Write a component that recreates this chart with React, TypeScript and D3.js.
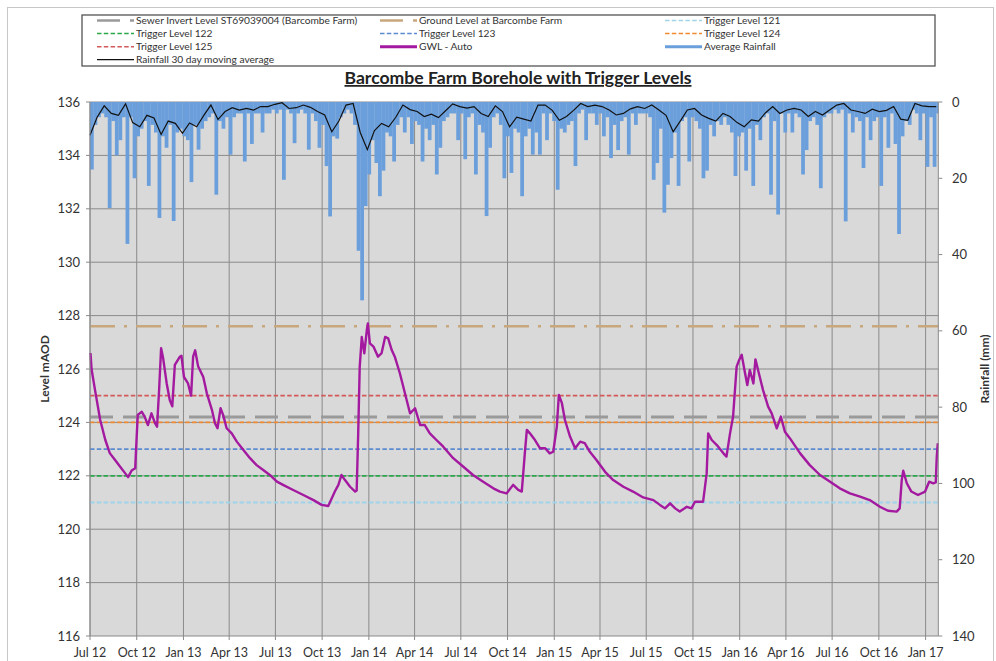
import React from "react";
import * as d3 from "d3";

// ---------- DATA ----------
const START = "2012-07-01";
const END = "2017-01-26";

// Weekly rainfall totals (mm), week i starts START + 7*i days
const rainWeekly = [
  17.7, 6, 4, 3, 4, 27.8, 5, 14, 10, 4, 37.2, 4, 20, 9, 7, 5, 22, 6, 8, 30.4,
  9, 12, 6, 31.2, 8, 7, 9, 10, 21, 6, 12.5, 7, 5, 4, 3, 24.3, 5, 7, 4, 13.8,
  4, 3, 3, 15.6, 3, 11, 3, 3, 8, 3, 3, 2, 3, 2, 20.4, 2, 3, 10.8, 3, 2,
  3, 12.5, 3, 5, 12, 6, 16.8, 30, 9, 9.6, 4, 3, 2, 3, 6, 39, 52, 27.3, 19, 10,
  16, 24.7, 18, 8, 9, 15.6, 6, 4, 8, 4, 11, 5, 6, 15.6, 7, 10, 6, 19, 12, 5,
  4, 3, 3, 10, 3, 15, 4, 3, 19, 6, 8, 29.9, 12, 4, 3, 6, 20, 9, 18.6, 7,
  8, 24.7, 9, 7, 13.8, 8, 13.8, 3, 10, 3, 5, 23, 7, 8, 6, 5, 16.8, 3, 2, 10,
  3, 3, 6, 3, 9, 4, 14.7, 6, 12.6, 5, 4, 13.8, 3, 6, 3, 3, 3, 4, 20.4, 16,
  7, 29, 21.7, 14.7, 8, 22, 5, 4, 15.6, 4, 5, 7, 20, 18, 6, 9, 5, 6, 4, 6,
  8, 19.4, 9, 8, 18, 7, 22, 6, 10, 4, 3, 24.3, 5, 29.5, 3, 8, 3, 8, 3, 4,
  19, 12.6, 5, 4, 6, 22.6, 4, 3, 3, 2, 3, 2, 31.3, 3, 8, 4, 5, 17.3, 4, 10,
  5, 4, 22, 4, 12, 3, 11, 34.6, 9, 5, 6, 2, 3, 10, 3, 17, 4, 17, 3,
];

// Rainfall 30 day moving average (mm), sampled every 14 days from START
const rainMA = [
  8.7, 4, 1.0, 3.0, 3.5, 0.5, 5.4, 6.5, 3.5, 4.2, 8.5, 5, 5.6, 8.2, 5.5, 6.5, 3.5, 0.8, 4.6, 2.5,
  1.5, 2.1, 1.7, 2.1, 1.2, 1.2, 0.6, 0.2, 1.7, 1.5, 0.8, 1.4, 2.5, 3.4, 7.8, 5, 0.8, 0.4, 8, 12.5,
  7.5, 5.6, 6.5, 4, 0.8, 2, 2.5, 3.8, 3.2, 4.1, 2.3, 0.5, 1.2, 1.6, 1.2, 3.0, 3.8, 1.0, 2.5, 6.5,
  4, 4.5, 5.0, 0.8, 0.8, 2.2, 4.8, 3.8, 2.2, 0.4, 1.2, 0.8, 1.2, 2.1, 3.4, 3.0, 1.8, 1.2, 1.7, 0.8,
  2.1, 3.5, 7.8, 5, 2.1, 1.7, 3.4, 4.3, 5, 3, 3.8, 5.4, 6.5, 4.7, 5, 2.8, 1.2, 3.0, 2.1, 1.7,
  2.1, 3.8, 2.5, 3.4, 2.1, 0.8, 0.4, 2.1, 2.5, 3.0, 1.9, 2.5, 2.2, 1.2, 4.5, 4.8, 0.4, 1.0, 1.2, 1.2,
];

// GWL - Auto: days after START and level (mAOD)
const gwlDays = [
  1, 3, 10, 20, 30, 39, 49, 59, 69, 75, 82, 89, 91, 94, 102, 108, 114, 121, 128, 132,
  136, 140, 144, 151, 157, 162, 167, 177, 180, 185, 193, 199, 203, 207, 213, 223, 230, 240, 246, 251,
  257, 262, 269, 279, 289, 302, 315, 328, 341, 354, 368, 380, 400, 420, 440, 456, 469, 476, 482, 489,
  495, 502, 512, 522, 525, 528, 531, 535, 540, 545, 547, 551, 558, 567, 574, 581, 587, 594, 600, 610,
  620, 630, 640, 650, 659, 669, 682, 695, 715, 735, 754, 774, 794, 807, 820, 833, 843, 850, 856, 860,
  866, 876, 886, 896, 905, 912, 919, 923, 929, 935, 945, 955, 965, 974, 984, 997, 1014, 1030, 1050, 1069,
  1089, 1109, 1122, 1132, 1142, 1152, 1161, 1175, 1184, 1191, 1207, 1214, 1217, 1224, 1234, 1247, 1253, 1260, 1266, 1273,
  1278, 1283, 1289, 1294, 1299, 1306, 1310, 1316, 1325, 1335, 1342, 1352, 1360, 1368, 1378, 1398, 1417, 1437, 1457, 1476,
  1496, 1516, 1535, 1555, 1571, 1588, 1594, 1598, 1601, 1608, 1617, 1630, 1644, 1652, 1660, 1665, 1667, 1669,
];
const gwlLevel = [
  126.6, 126.0, 125.2, 124.1, 123.35, 122.85, 122.6, 122.35, 122.1, 121.95, 122.2, 122.28, 123.1, 124.28, 124.4, 124.2, 123.9, 124.34, 123.97, 123.84,
  125.2, 126.78, 126.4, 125.46, 124.84, 124.6, 126.15, 126.46, 126.5, 125.7, 125.46, 125.0, 126.46, 126.7, 126.09, 125.7, 125.09, 124.47, 123.97, 123.78,
  124.53, 124.28, 123.78, 123.59, 123.28, 122.97, 122.66, 122.4, 122.22, 122.03, 121.78, 121.66, 121.47, 121.28, 121.09, 120.91, 120.87, 121.16, 121.41, 121.66,
  122.03, 121.84, 121.59, 121.41, 121.45, 123.59, 126.09, 127.2, 126.59, 127.46, 127.71, 126.96, 126.84, 126.46, 126.59, 127.2, 127.15, 126.71, 126.46, 125.84,
  125.09, 124.34, 124.53, 123.9, 123.9, 123.59, 123.34, 123.1, 122.66, 122.34, 122.03, 121.78, 121.53, 121.41, 121.34, 121.66, 121.47, 121.41, 122.84, 123.72,
  123.59, 123.34, 123.03, 123.03, 122.84, 122.9, 123.84, 125.03, 124.72, 124.09, 123.47, 123.03, 123.28, 123.22, 122.9, 122.59, 122.15, 121.84, 121.59, 121.41,
  121.19, 121.09, 120.91, 120.78, 120.97, 120.78, 120.66, 120.84, 120.78, 121.03, 121.03, 122.09, 123.59, 123.34, 123.15, 122.84, 122.72, 123.59, 124.22, 126.09,
  126.34, 126.53, 125.9, 125.4, 125.96, 125.46, 126.36, 125.9, 125.21, 124.59, 124.34, 123.78, 124.22, 123.65, 123.4, 122.84, 122.4, 122.03, 121.78, 121.53,
  121.34, 121.22, 121.09, 120.84, 120.69, 120.66, 120.78, 121.84, 122.19, 121.72, 121.41, 121.28, 121.41, 121.78, 121.72, 121.75, 122.72, 123.22,
];

const triggerLevels = [121, 122, 123, 124, 125];
const sewerInvertLevel = 124.2;
const groundLevel = 127.6;
const levelTicks = [116, 118, 120, 122, 124, 126, 128, 130, 132, 134, 136];
const rainTicks = [0, 20, 40, 60, 80, 100, 120, 140];

// ---------- STYLE ----------
const FONT = "Lato, 'Open Sans', sans-serif";
const triggerColors: Record<number, string> = {
  121: "#9fd4ea",
  122: "#2aa84a",
  123: "#5b8bd0",
  124: "#ef8a30",
  125: "#d45a5a",
};
const SEWER_COLOR = "#9a9a9a";
const GROUND_COLOR = "#c8a77c";
const GWL_COLOR = "#a3199f";
const RAIN_COLOR = "#6a9fdc";
const MA_COLOR = "#111111";
const TRIG_DASH = "4.5 2.3";
const SEWER_DASH = "23 10";
const GROUND_DASH = "25 9 3 9";

const W = 996;
const H = 661;
const L = 90;
const R = 938.3;
const T = 102;
const B = 636;

export default function App() {
  const parse = d3.utcParse("%Y-%m-%d");
  const t0 = parse(START) as Date;
  const t1 = parse(END) as Date;
  const x = d3.scaleUtc().domain([t0, t1]).range([L, R]);
  const yL = d3.scaleLinear().domain([116, 136]).range([B, T]);
  const yR = d3.scaleLinear().domain([0, 140]).range([T, B]);

  const xTicks = d3.utcMonth.every(3)!.range(t0, d3.utcDay.offset(t1, 1));
  const fmt = d3.utcFormat("%b %y");

  const bars = rainWeekly.map((v, i) => {
    const a = d3.utcDay.offset(t0, 7 * i);
    const b = d3.utcDay.offset(t0, 7 * i + 7);
    const x0 = x(a);
    const x1 = Math.min(x(b), R);
    return { x0, w: Math.max(0.5, x1 - x0 + 0.2), v };
  });

  const maLine = d3
    .line<number>()
    .x((_, i) => x(d3.utcDay.offset(t0, 14 * i)))
    .y((v) => yR(v))(rainMA);

  const gwlLine = d3
    .line<number>()
    .x((d) => x(d3.utcDay.offset(t0, d)))
    .y((_, i) => yL(gwlLevel[i]))(gwlDays);

  const legend = [
    { label: "Sewer Invert Level ST69039004 (Barcombe Farm)", color: SEWER_COLOR, dash: SEWER_DASH, w: 2.5 },
    { label: "Ground Level at Barcombe Farm", color: GROUND_COLOR, dash: SEWER_DASH, w: 2.5 },
    { label: "Trigger Level 121", color: triggerColors[121], dash: TRIG_DASH, w: 1.6 },
    { label: "Trigger Level 122", color: triggerColors[122], dash: TRIG_DASH, w: 1.6 },
    { label: "Trigger Level 123", color: triggerColors[123], dash: TRIG_DASH, w: 1.6 },
    { label: "Trigger Level 124", color: triggerColors[124], dash: TRIG_DASH, w: 1.6 },
    { label: "Trigger Level 125", color: triggerColors[125], dash: TRIG_DASH, w: 1.6 },
    { label: "GWL - Auto", color: GWL_COLOR, dash: undefined, w: 3 },
    { label: "Average Rainfall", color: RAIN_COLOR, dash: undefined, w: 3 },
    { label: "Rainfall 30 day moving average", color: MA_COLOR, dash: undefined, w: 1.2 },
  ];
  const colX = [97, 380, 665];
  const rowY = [20.5, 33.5, 46.7, 59.7];

  return (
    <div style={{ position: "absolute", left: 0, top: 0 }}>
      <svg width={W} height={H} style={{ display: "block", background: "#fff", fontFamily: FONT }}>
        <rect x={7.5} y={7.5} width={986} height={670} fill="#fff" stroke="#c8c8c8" strokeWidth={1} />

        {/* Legend */}
        <rect x={82} y={15} width={853} height={51} fill="#fff" stroke="#555" strokeWidth={1.3} />
        {legend.map((e, i) => {
          const cx = colX[i % 3];
          const cy = rowY[Math.floor(i / 3)];
          return (
            <g key={i}>
              <line x1={cx} x2={cx + 37} y1={cy} y2={cy} stroke={e.color} strokeWidth={e.w} strokeDasharray={e.dash} />
              <text x={cx + 39} y={cy + 3.5} fontSize={10.2} fill="#333">{e.label}</text>
            </g>
          );
        })}

        {/* Title */}
        <text x={518} y={84} textAnchor="middle" fontSize={17.6} fontWeight="bold" fill="#222" style={{ textDecoration: "underline" }}>
          Barcombe Farm Borehole with Trigger Levels
        </text>

        {/* Plot background */}
        <rect x={L} y={T} width={R - L} height={B - T} fill="#d9d9d9" />

        {/* Gridlines */}
        {levelTicks.map((t) => (
          <line key={"h" + t} x1={L} x2={R} y1={yL(t)} y2={yL(t)} stroke="#8a8a8a" strokeWidth={1} />
        ))}
        {xTicks.map((t, i) => (
          <line key={"v" + i} x1={x(t)} x2={x(t)} y1={T} y2={B + 4} stroke="#8a8a8a" strokeWidth={1} />
        ))}

        {/* Rainfall bars */}
        {bars.map((b, i) => (
          <rect key={"r" + i} x={b.x0} y={T} width={b.w} height={yR(b.v) - T} fill={RAIN_COLOR} />
        ))}
        <path d={maLine || ""} fill="none" stroke={MA_COLOR} strokeWidth={1.2} />

        {/* Level lines */}
        <line x1={L} x2={R} y1={yL(groundLevel)} y2={yL(groundLevel)} stroke={GROUND_COLOR} strokeWidth={2.5} strokeDasharray={GROUND_DASH} />
        {triggerLevels.map((lv) => (
          <line key={"t" + lv} x1={L} x2={R} y1={yL(lv)} y2={yL(lv)} stroke={triggerColors[lv]} strokeWidth={1.8} strokeDasharray={TRIG_DASH} />
        ))}
        <line x1={L} x2={R} y1={yL(sewerInvertLevel)} y2={yL(sewerInvertLevel)} stroke={SEWER_COLOR} strokeWidth={3} strokeDasharray={SEWER_DASH} />

        {/* GWL */}
        <path d={gwlLine || ""} fill="none" stroke={GWL_COLOR} strokeWidth={2.4} strokeLinejoin="round" />

        {/* Plot frame */}
        <line x1={L} x2={L} y1={T} y2={B} stroke="#8a8a8a" />
        <line x1={R} x2={R} y1={T} y2={B} stroke="#8a8a8a" />

        {/* Left axis */}
        {levelTicks.map((t) => (
          <g key={"lt" + t}>
            <line x1={L - 4} x2={L} y1={yL(t)} y2={yL(t)} stroke="#8a8a8a" />
            <text x={80} y={yL(t) + 4.5} textAnchor="end" fontSize={13} fill="#333">{t}</text>
          </g>
        ))}
        {/* Right axis */}
        {rainTicks.map((t) => (
          <g key={"rt" + t}>
            <line x1={R} x2={R + 4} y1={yR(t)} y2={yR(t)} stroke="#8a8a8a" />
            <text x={952} y={yR(t) + 4.5} textAnchor="start" fontSize={13} fill="#333">{t}</text>
          </g>
        ))}
        {/* Bottom axis labels */}
        {xTicks.map((t, i) => (
          <text key={"xl" + i} x={x(t)} y={657} textAnchor="middle" fontSize={12.5} fill="#333">{fmt(t)}</text>
        ))}

        {/* Axis titles */}
        <text transform={`translate(49,${(T + B) / 2}) rotate(-90)`} textAnchor="middle" fontSize={12} fontWeight="bold" fill="#333">
          Level mAOD
        </text>
        <text transform={`translate(989,${(T + B) / 2}) rotate(-90)`} textAnchor="middle" fontSize={12} fontWeight="bold" fill="#333">
          Rainfall (mm)
        </text>
      </svg>
    </div>
  );
}
